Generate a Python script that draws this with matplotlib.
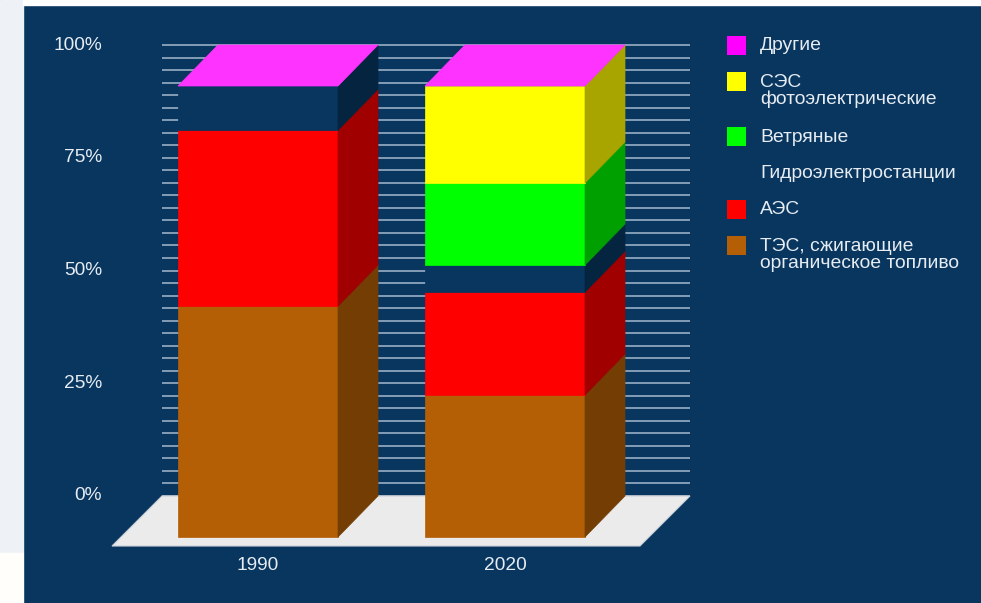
import matplotlib
matplotlib.use('Agg')
import matplotlib.pyplot as plt
from matplotlib.patches import Rectangle, Polygon
import numpy as np

plt.rcParams['font.family'] = ['Liberation Sans', 'DejaVu Sans']

# данные (доли выработки, %), снизу вверх
years = ['1990', '2020']
tes = [51.2, 31.5]
aes = [39.0, 22.8]
hydro = [9.8, 6.0]
wind = [0.0, 18.2]
solar = [0.0, 21.5]
other = [0.0, 0.0]

labels = ['ТЭС, сжигающие\nорганическое топливо', 'АЭС', 'Гидроэлектростанции',
          'Ветряные', 'СЭС\nфотоэлектрические', 'Другие']
front_colors = ['#B45F06', '#FF0000', '#08365F', '#00FF00', '#FFFF00', '#FF00FF']
side_colors = ['#733D03', '#A00000', '#05243F', '#00A000', '#A8A400', '#A000A0']
top_color = '#FF33FF'
yticks = [0, 25, 50, 75, 100]

BG = '#08365F'
TXT = '#E6ECF2'
W, H = 981, 603

# геометрия (пиксели -> единицы данных)
X0_PX, STEP_PX, Y0_PX, PX_PCT = 258, 247, 537, 4.51
HW = 80 / STEP_PX
DX = 40 / STEP_PX
DY = 41 / PX_PCT

fig = plt.figure(figsize=(W / 100, H / 100), dpi=100)
fig.patch.set_facecolor(BG)

# фон страницы слева и сверху
fig.add_artist(Rectangle((0, 50 / H), 23 / W, 1 - 50 / H, transform=fig.transFigure,
                         color='#EEF2F7', zorder=0))
fig.add_artist(Rectangle((0, 0), 23 / W, 50 / H, transform=fig.transFigure,
                         color='#FFFEFB', zorder=0))
fig.add_artist(Rectangle((23 / W, 1 - 5 / H), 1, 5 / H, transform=fig.transFigure,
                         color='#FFFFFF', zorder=0))

ax = fig.add_axes([23 / W, 0, 1 - 23 / W, 1 - 5 / H])
ax.set_xlim((23 - X0_PX) / STEP_PX, (W - X0_PX) / STEP_PX)
ax.set_ylim((Y0_PX - H) / PX_PCT, (Y0_PX - 5) / PX_PCT)
ax.axis('off')

# задняя стенка - сетка
wall_l = (162 - X0_PX) / STEP_PX
wall_r = (690 - X0_PX) / STEP_PX
for k in range(37):
    y = DY + k * 100 / 36
    ax.plot([wall_l, wall_r], [y, y], color='#8FA5BD', lw=1.3, zorder=1,
            solid_capstyle='butt')

# пол
fl_front = -2.0
fl_dx = (DY - fl_front) * PX_PCT / STEP_PX
ax.add_patch(Polygon([(wall_l - fl_dx, fl_front), (wall_r - fl_dx, fl_front),
                      (wall_r, DY), (wall_l, DY)],
                     closed=True, facecolor='#EBEBEB', edgecolor='#C9CFD6', lw=0.8, zorder=2))

# столбцы
series = [tes, aes, hydro, wind, solar, other]
for i in range(len(years)):
    bottom = 0.0
    for j, s in enumerate(series):
        v = s[i]
        top = bottom + v
        if v > 0:
            ax.add_patch(Rectangle((i - HW, bottom), 2 * HW, v, facecolor=front_colors[j],
                                   edgecolor=front_colors[j], lw=0.5, zorder=3))
            ax.add_patch(Polygon([(i + HW, bottom), (i + HW + DX, bottom + DY),
                                  (i + HW + DX, top + DY), (i + HW, top)],
                                 closed=True, facecolor=side_colors[j],
                                 edgecolor=side_colors[j], lw=0.5, zorder=3))
        bottom = top
    ax.add_patch(Polygon([(i - HW, bottom), (i - HW + DX, bottom + DY),
                          (i + HW + DX, bottom + DY), (i + HW, bottom)],
                         closed=True, facecolor=top_color, edgecolor=top_color,
                         lw=0.5, zorder=3))
    ax.text(i, (Y0_PX - 566) / PX_PCT, years[i], color=TXT, fontsize=13.8,
            ha='center', va='center')

# подписи оси Y
for t in yticks:
    ax.text((102 - X0_PX) / STEP_PX, DY + t, f'{t}%', color=TXT, fontsize=13.8,
            ha='right', va='center')

# легенда
y_px = 45
for j in range(len(labels) - 1, -1, -1):
    n_lines = labels[j].count('\n') + 1
    fig.add_artist(Rectangle((727 / W, 1 - (y_px + 9.5) / H), 19 / W, 19 / H,
                             transform=fig.transFigure, facecolor=front_colors[j],
                             edgecolor='none', zorder=5))
    fig.text(760 / W, 1 - (y_px + 10 * (n_lines - 1)) / H, labels[j], color=TXT,
             fontsize=13.9, ha='left', va='center', linespacing=1.0)
    y_px += 36 + 20 * (n_lines - 1)

fig.savefig('out.png', dpi=100, facecolor=fig.get_facecolor())
